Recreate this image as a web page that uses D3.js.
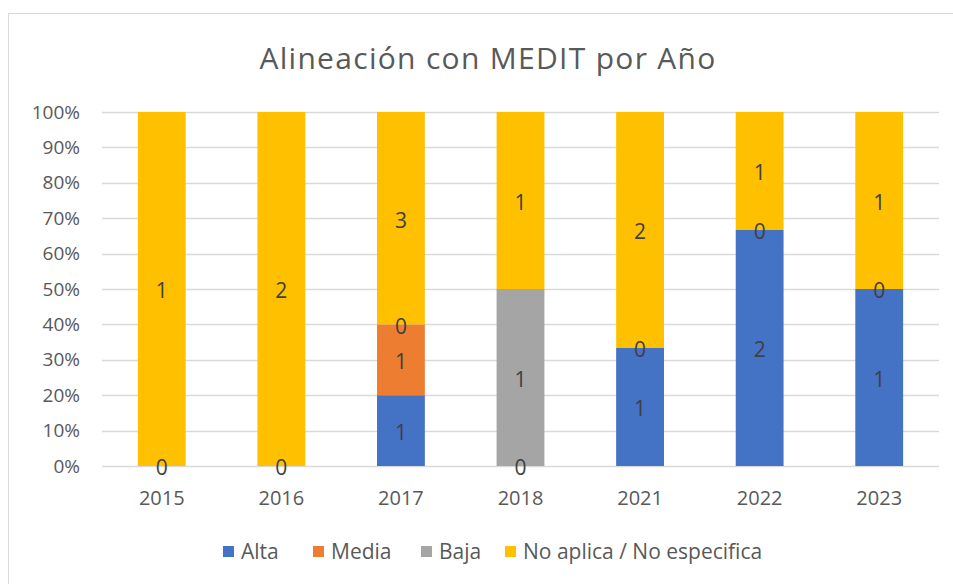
<!DOCTYPE html>
<html>
<head>
<meta charset="utf-8">
<script src="https://cdn.jsdelivr.net/npm/d3@7"></script>
<style>
  body { margin: 0; background: #fff; }
  svg { display: block; font-family: "Open Sans", sans-serif; }
</style>
</head>
<body>
<svg id="chart" width="953" height="584"></svg>
<script>
// chart data
var years = ["2015", "2016", "2017", "2018", "2021", "2022", "2023"]
var alta = [0, 0, 1, 0, 1, 2, 1]
var media = [null, null, 1, null, null, null, null]
var baja = [null, null, 0, 1, 0, 0, 0]
var noAplica = [1, 2, 3, 1, 2, 1, 1]
var seriesNames = ["Alta", "Media", "Baja", "No aplica / No especifica"]
var yTicks = [0, 0.1, 0.2, 0.3, 0.4, 0.5, 0.6, 0.7, 0.8, 0.9, 1]

var colors = ["#4472C4", "#ED7D31", "#A5A5A5", "#FFC000"]
var allSeries = [alta, media, baja, noAplica]

var margin = {left: 102, right: 14, top: 112, bottom: 118}
var width = 953, height = 584
var fontFam = "'Open Sans', sans-serif"

const svg = d3.select("#chart")

// outer chart frame (cut off at right/bottom like the screenshot)
svg.append("rect")
    .attr("x", 8.5).attr("y", 13.5)
    .attr("width", 1200).attr("height", 1200)
    .attr("fill", "none")
    .attr("stroke", "#d9d9d9")

svg.append("text")
    .attr("x", 488).attr("y", 69)
    .attr("text-anchor", "middle")
    .style("font-size", "30px")
    .style("letter-spacing", "1.3px")
    .style("fill", "#595959")
    .text("Alineación con MEDIT por Año")

const x = d3.scaleBand()
    .domain(years)
    .range([margin.left, width - margin.right])
    .paddingInner(0.6)
    .paddingOuter(0.3)

const y = d3.scaleLinear()
    .domain([0, 1])
    .range([height - margin.bottom, margin.top])

// gridlines
svg.append("g").selectAll("line")
    .data(yTicks).join("line")
    .attr("x1", margin.left).attr("x2", width - margin.right)
    .attr("y1", d => Math.round(y(d)) + 0.5).attr("y2", d => Math.round(y(d)) + 0.5)
    .attr("stroke", "#d9d9d9")
    .attr("stroke-width", 1.5)

// y axis labels
const yAxis = d3.axisLeft(y).tickValues(yTicks).tickFormat(d3.format(".0%")).tickSize(0).tickPadding(22)
svg.append("g")
    .attr("transform", "translate(" + margin.left + ",0)")
    .call(yAxis)
    .call(g => g.select(".domain").remove())
    .selectAll("text")
    .style("font-size", "19px")
    .style("font-family", fontFam)
    .style("fill", "#595959")

// x axis labels
const xAxis = d3.axisBottom(x).tickSize(0).tickPadding(25)
svg.append("g")
    .attr("transform", "translate(0," + y(0) + ")")
    .call(xAxis)
    .call(g => g.select(".domain").remove())
    .selectAll("text")
    .style("font-size", "20px")
    .style("font-family", fontFam)
    .style("fill", "#595959")

// build stacked percentage segments
var segments = []
years.forEach(function(yr, i) {
    var total = d3.sum(allSeries, s => s[i] || 0)
    var cum = 0
    allSeries.forEach(function(s, k) {
        var v = s[i]
        if (v === null) return
        var y0 = cum / total
        cum += v
        var y1 = cum / total
        segments.push({year: yr, k: k, value: v, y0: y0, y1: y1})
    })
})

svg.append("g").selectAll("rect")
    .data(segments.filter(d => d.value > 0)).join("rect")
    .attr("x", d => x(d.year))
    .attr("width", x.bandwidth())
    .attr("y", d => y(d.y1))
    .attr("height", d => y(d.y0) - y(d.y1))
    .attr("fill", d => colors[d.k])

// data labels (zeros included, as in Excel)
svg.append("g").selectAll("text")
    .data(segments).join("text")
    .attr("x", d => x(d.year) + x.bandwidth() / 2)
    .attr("y", d => y((d.y0 + d.y1) / 2) + 2)
    .attr("dy", "0.35em")
    .attr("text-anchor", "middle")
    .style("font-size", "21px")
    .style("fill", "#404040")
    .text(d => d.value)

// legend
var legendX = [223, 313, 421, 505]
const legend = svg.append("g").selectAll("g")
    .data(seriesNames).join("g")
    .attr("transform", (d, i) => "translate(" + legendX[i] + ",546)")
legend.append("rect")
    .attr("width", 11).attr("height", 11)
    .attr("fill", (d, i) => colors[i])
legend.append("text")
    .attr("x", 18).attr("y", 5.5)
    .attr("dy", "0.35em")
    .style("font-size", "21px")
    .style("fill", "#595959")
    .text(d => d)
</script>
</body>
</html>
